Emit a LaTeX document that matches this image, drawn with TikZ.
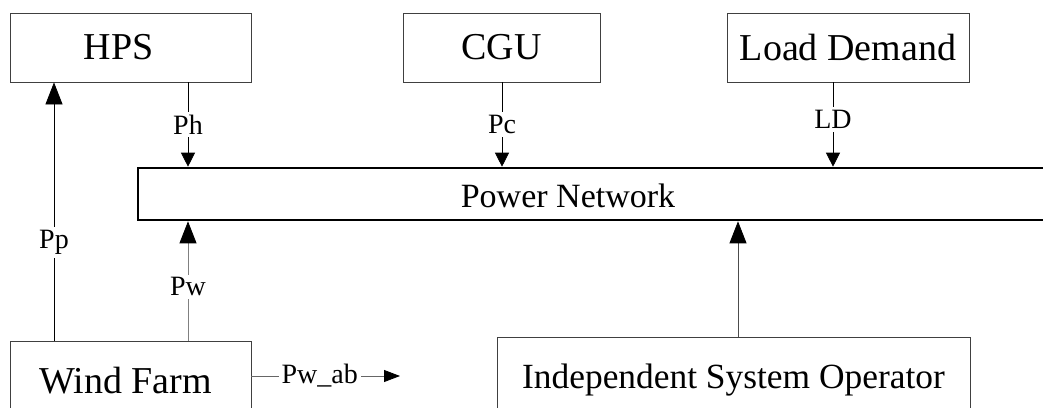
\documentclass[tikz,border=0pt]{standalone}
\usepackage{fontspec}
\setmainfont{Liberation Serif}
\usetikzlibrary{arrows.meta}

\begin{document}
\begin{tikzpicture}[
    x=0.5pt, y=-0.5pt,
    box/.style={draw=black!75, thin, rectangle, minimum height=34.5pt, inner sep=0pt, font=\fontsize{19}{22}\selectfont},
    net/.style={draw=black, line width=1.3pt, minimum height=26pt, inner sep=0pt},
    lbl/.style={fill=white, inner sep=1.5pt, font=\fontsize{14}{16}\selectfont},
    dn/.style={-{Triangle[length=7pt, width=7pt, color=black]}},
    up/.style={-{Triangle[length=11pt, width=8.5pt, color=black]}},
    side/.style={-{Triangle[length=8pt, width=6pt, color=black]}}
]
    \useasboundingbox (0,0) rectangle (1043,407);

    % blocks (top row)
    \node[box, minimum width=120.5pt] (hps) at (130.5,47.5) {\hspace*{-12pt}HPS}; % hydro
    \node[box, minimum width=98.5pt] (cgu) at (501.5,47.5) {CGU};                 % conventional units
    \node[box, minimum width=121pt] (ld) at (848,47.5) {Load Demand};             % demand

    % power network bar (runs off the right edge)
    \node[net, minimum width=461pt] (pn) at (599,194) {};
    \node[font=\fontsize{17}{20}\selectfont] (pntext) at (568,196) {Power Network};

    % blocks (bottom row)
    \node[box, minimum width=120.5pt, minimum height=40pt] (wf) at (130.5,381) {\hspace*{-5pt}Wind Farm};
    \node[box, minimum width=236.5pt, minimum height=43pt, font=\fontsize{17.7}{21}\selectfont] (iso) at (733.5,380) {Independent System Operator};

    % x positions of the connectors
    \coordinate (xph) at (188,0);
    \coordinate (xpc) at (502,0);
    \coordinate (xld) at (833,0);
    \coordinate (xpp) at (54,0);
    \coordinate (xiso) at (738,0);
    \coordinate (wab) at (400,376);

    % 1. flows into the network from above
    \draw[dn] (hps.south -| xph) -- node[lbl] {Ph} (pn.north -| xph);
    \draw[dn] (cgu.south -| xpc) -- node[lbl] {Pc} (pn.north -| xpc);
    \draw[dn] (ld.south -| xld) -- node[lbl, pos=0.44] {LD} (pn.north -| xld);

    % 2. flows from the wind farm
    \draw[up] (wf.north -| xpp) -- node[lbl, pos=0.38] {Pp} (hps.south -| xpp);
    \draw[up, draw=black!50] (wf.north -| xph) -- node[lbl, pos=0.45] {Pw} (pn.south -| xph);
    \draw[side, draw=black!60] (wf.east |- wab) -- node[lbl, pos=0.46] {Pw\_ab} (wab);

    % 3. operator
    \draw[up, draw=black!70] (iso.north -| xiso) -- (pn.south -| xiso);

\end{tikzpicture}
\end{document}
